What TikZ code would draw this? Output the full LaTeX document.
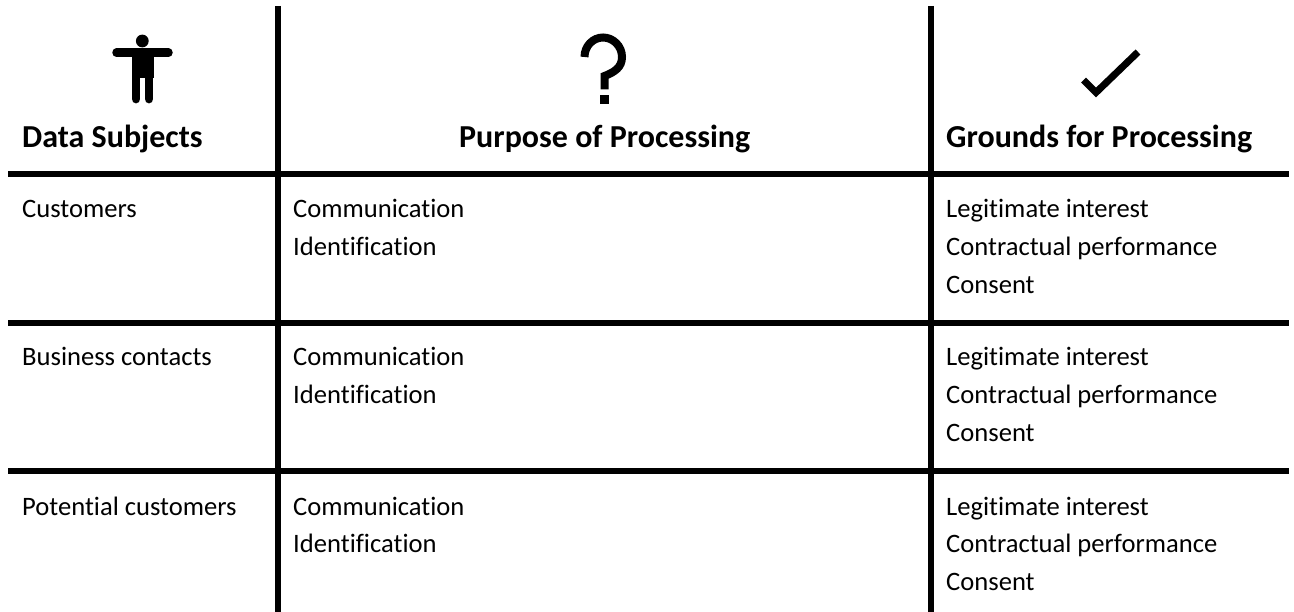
\documentclass[tikz,border=0pt]{standalone}
\usepackage{fontspec}
\setmainfont[Ligatures=NoCommon]{Carlito}
\begin{document}
\begin{tikzpicture}[x=1pt,y=-1pt,
  rule/.style={line width=6pt,black},
  head/.style={font=\fontsize{32}{38}\selectfont\bfseries,anchor=base west,inner sep=0pt},
  cell/.style={font=\fontsize{26.6}{32}\selectfont,anchor=base west,inner sep=0pt,align=left},
  glyph/.style={fill=black,draw=none}]
\useasboundingbox (0,0) rectangle (1294,612);
\fill[white] (0,0) rectangle (1294,612);
\coordinate (v1t) at (278,6); \coordinate (v1b) at (278,612);
\coordinate (v2t) at (931,6); \coordinate (v2b) at (931,612);
\coordinate (h1l) at (8,174); \coordinate (h1r) at (1289,174);
\coordinate (h2l) at (8,323); \coordinate (h2r) at (1289,323);
\coordinate (h3l) at (8,471); \coordinate (h3r) at (1289,471);
\draw[rule] (v1t) -- (v1b);
\draw[rule] (v2t) -- (v2b);
\draw[rule] (h1l) -- (h1r);
\draw[rule] (h2l) -- (h2r);
\draw[rule] (h3l) -- (h3r);
% icons
\fill[glyph] (142.3,41) circle (6.4);
\draw[line width=8.5pt,line cap=round] (116.5,52.7) -- (168.5,52.7);
\fill[glyph] (131.5,52) rectangle (153.5,78);
\draw[line width=8.8pt,line cap=round] (136,76) -- (136,99);
\draw[line width=8.8pt,line cap=round] (149,76) -- (149,99);
\draw[line width=8pt] (584.5,57) .. controls (584.5,46) and (593,37.5) .. (603,37.5) .. controls (613,37.5) and (622,46) .. (622,57) .. controls (622,67) and (615,72) .. (604.5,76) -- (604.5,89.5);
\fill[glyph] (600,95) rectangle (609,104);
\draw[line width=7pt] (1083.5,80) -- (1096,92.5) -- (1138,52);
% text
\node[head] (t1) at (22,148) {Data Subjects};
\node[head] (t2) at (459,148) {Purpose of Processing};
\node[head] (t3) at (946,148) {Grounds for Processing};
\node[cell] (a1) at (22,217.5) {Customers};
\node[cell] (a2) at (22,366) {Business contacts};
\node[cell] (a3) at (22,515) {Potential customers};
\foreach \n/\y in {b1/217.5,b2/366,b3/515}{
  \node[cell] (\n a) at (293,\y) {Communication};
  \node[cell] (\n b) at (293,\y+37.8) {Identification};
}
\foreach \n/\y in {c1/217.5,c2/366,c3/515}{
  \node[cell] (\n a) at (946,\y) {Legitimate interest};
  \node[cell] (\n b) at (946,\y+37.8) {Contractual performance};
  \node[cell] (\n c) at (946,\y+75.6) {Consent};
}
\end{tikzpicture}
\end{document}
